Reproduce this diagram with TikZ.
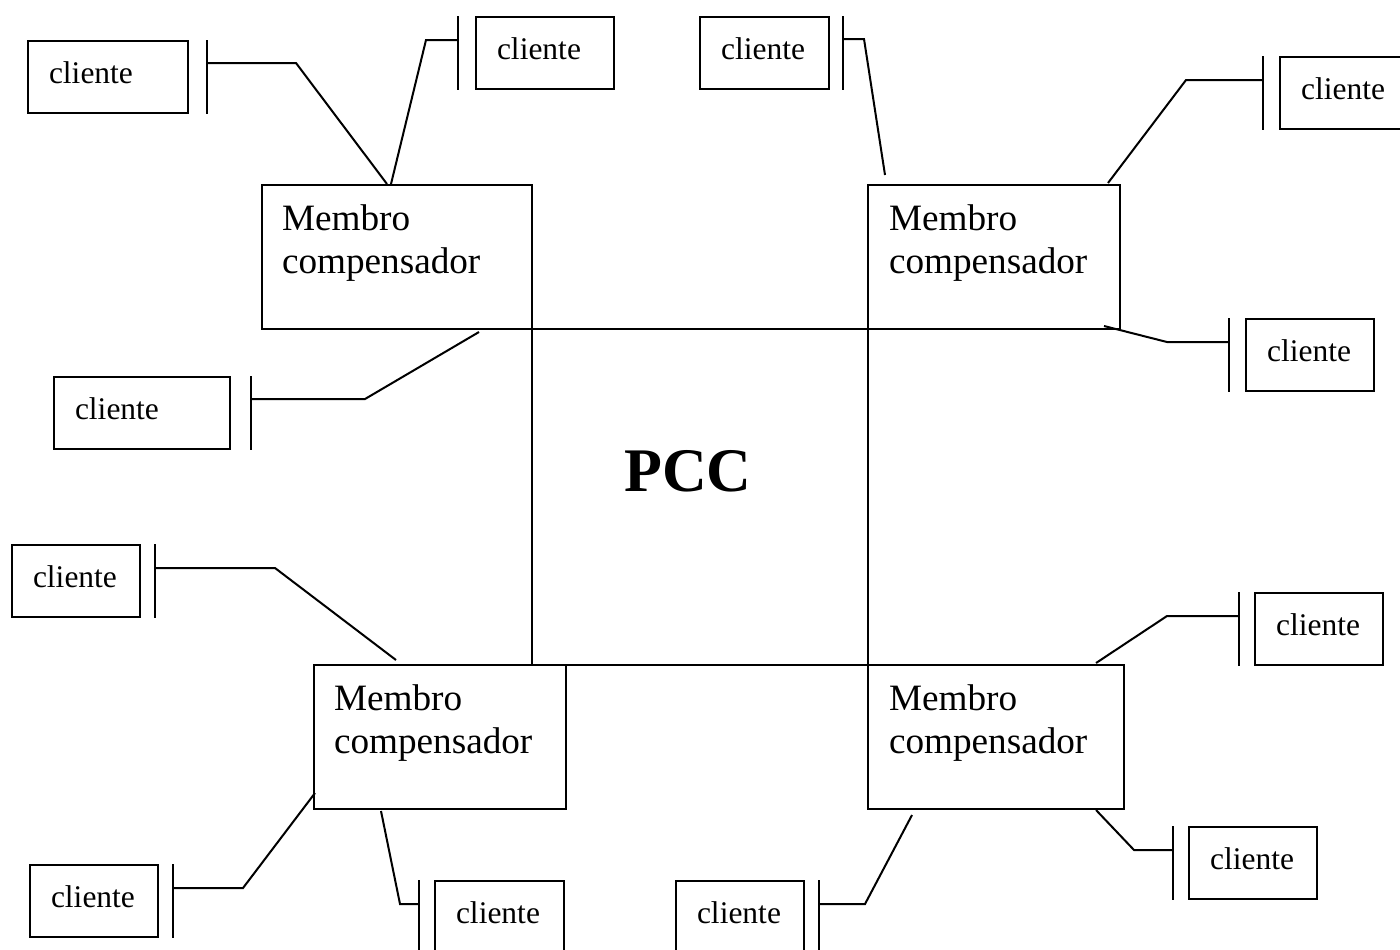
\documentclass[tikz,border=0pt]{standalone}
\usepackage{fontspec}
\setmainfont{Liberation Serif}
\usetikzlibrary{calc}
\newcommand\cfont{\fontsize{15.75pt}{18pt}\selectfont}
\newcommand\mfont{\fontsize{18.6pt}{21.5pt}\selectfont}
\newcommand\pfont{\fontsize{31pt}{36pt}\selectfont\bfseries}
\begin{document}
\begin{tikzpicture}[x=0.5pt,y=-0.5pt, line width=1pt,
  cbox/.style={draw, anchor=north west, minimum height=36pt, inner xsep=10.5pt, inner ysep=0pt,
    align=left, text width=#1, text height=9pt, text depth=3pt, font=\cfont},
  mbox/.style={draw, anchor=north west, minimum height=72pt, minimum width=#1, inner sep=0pt},
  mtext/.style={anchor=base west, align=left, text width=110pt, inner sep=0pt, font=\mfont},
  pccbox/.style={draw, anchor=north west, minimum size=168pt, inner sep=0pt},
  pcctext/.style={font=\pfont, inner sep=0pt},
  conn/.style={line width=1pt},
  barline/.style={line width=1pt}]
\useasboundingbox (0,0) rectangle (1400,949);

% PCC square
\node[pccbox] (pcc) at (531,328) {};
\node[pcctext] (pcct) at (688,471) {PCC};

% Membro compensador boxes
\node[mbox=135pt] (m1) at (261,184) {};
\node[mbox=126pt] (m2) at (867,184) {};
\node[mbox=126pt] (m3) at (313,664) {};
\node[mbox=128pt] (m4) at (867,664) {};
\node[mtext] (l1) at ($(m1.north west)+(20,46)$) {Membro\\compensador};
\node[mtext] (l2) at ($(m2.north west)+(21,46)$) {Membro\\compensador};
\node[mtext] (l3) at ($(m3.north west)+(20,46)$) {Membro\\compensador};
\node[mtext] (l4) at ($(m4.north west)+(21,46)$) {Membro\\compensador};

% clientes
\node[cbox=59pt]   (c1)  at (27,40)    {cliente};
\node[cbox=48pt]   (c2)  at (475,16)   {cliente};
\node[cbox=67pt]   (c3)  at (53,376)   {cliente};
\node[cbox=43.5pt] (c4)  at (699,16)   {cliente};
\node[cbox=44pt]   (c5)  at (1279,56)  {cliente};
\node[cbox=43pt]   (c6)  at (1245,318) {cliente};
\node[cbox=43pt]   (c7)  at (11,544)   {cliente};
\node[cbox=43pt]   (c8)  at (29,864)   {cliente};
\node[cbox=43.5pt] (c9)  at (434,880)  {cliente};
\node[cbox=43pt]   (c10) at (1254,592) {cliente};
\node[cbox=43pt]   (c11) at (1188,826) {cliente};
\node[cbox=43pt]   (c12) at (675,880)  {cliente};

% junction points on the bars
\coordinate (b1) at (207,63);
\coordinate (b2) at (458,40);
\coordinate (b3) at (251,399);
\coordinate (b4) at (843,39);
\coordinate (b5) at (1263,80);
\coordinate (b6) at (1229,342);
\coordinate (b7) at (155,568);
\coordinate (b8) at (173,888);
\coordinate (b9) at (419,904);
\coordinate (b10) at (1239,616);
\coordinate (b11) at (1173,850);
\coordinate (b12) at (819,904);

% elbows
\coordinate (e1) at (296,63);
\coordinate (e2) at (426,40);
\coordinate (e3) at (365,399);
\coordinate (e4) at (864,39);
\coordinate (e5) at (1186,80);
\coordinate (e6) at (1167,342);
\coordinate (e7) at (275,568);
\coordinate (e8) at (243,888);
\coordinate (e9) at (400,904);
\coordinate (e10) at (1167,616);
\coordinate (e11) at (1134,850);
\coordinate (e12) at (865,904);

% ends at the Membro boxes
\coordinate (p1) at (387,184);
\coordinate (p2) at (391,184);
\coordinate (p3) at (479,332);
\coordinate (p4) at (885,175);
\coordinate (p5) at (1108,183);
\coordinate (p6) at (1104,326);
\coordinate (p7) at (396,660);
\coordinate (p8) at (315,793);
\coordinate (p9) at (381,811);
\coordinate (p10) at (1096,663);
\coordinate (p11) at (1096,810);
\coordinate (p12) at (912,815);

\foreach \i in {1,...,12}{
  \draw[barline] (c\i.north -| b\i) -- (c\i.south -| b\i);
  \draw[conn] (b\i) -- (e\i) -- (p\i);
}
\end{tikzpicture}
\end{document}
